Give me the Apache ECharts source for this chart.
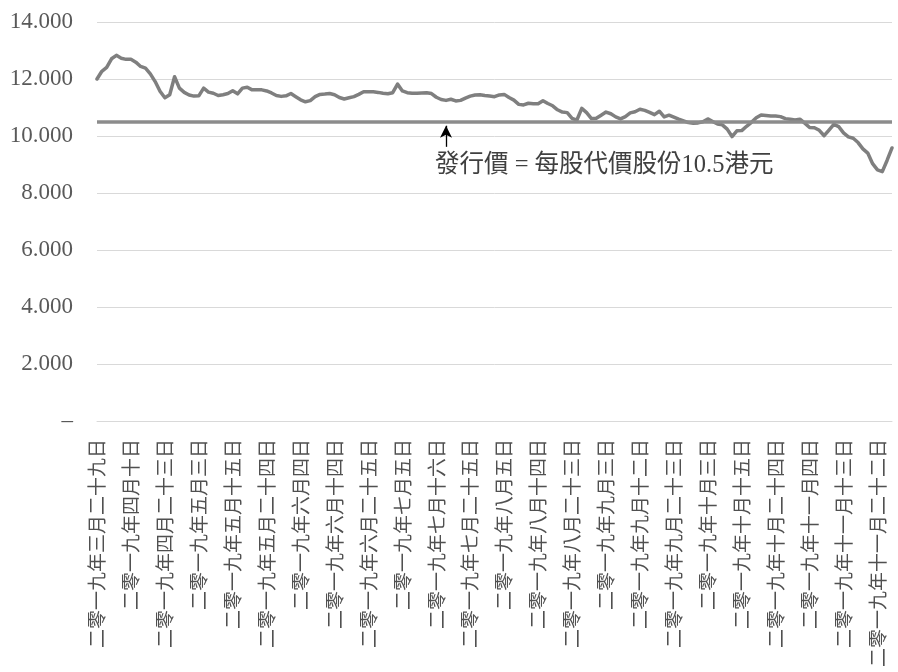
<!DOCTYPE html>
<html>
<head>
<meta charset="utf-8">
<script src="https://cdn.jsdelivr.net/npm/echarts@6/dist/echarts.min.js"></script>
<style>
html,body{margin:0;padding:0;background:#fff;}
#chart{width:898px;height:672px;}
</style>
</head>
<body>
<div id="chart"></div>
<script>
const dates = [
'2019-03-29',
'2019-04-01','2019-04-02','2019-04-03','2019-04-04','2019-04-08','2019-04-09','2019-04-10','2019-04-11','2019-04-12','2019-04-15','2019-04-16','2019-04-17','2019-04-18','2019-04-23','2019-04-24','2019-04-25','2019-04-26','2019-04-29','2019-04-30',
'2019-05-02','2019-05-03','2019-05-06','2019-05-07','2019-05-08','2019-05-09','2019-05-10','2019-05-14','2019-05-15','2019-05-16','2019-05-17','2019-05-20','2019-05-21','2019-05-22','2019-05-23','2019-05-24','2019-05-27','2019-05-28','2019-05-29','2019-05-30','2019-05-31',
'2019-06-03','2019-06-04','2019-06-05','2019-06-06','2019-06-10','2019-06-11','2019-06-12','2019-06-13','2019-06-14','2019-06-17','2019-06-18','2019-06-19','2019-06-20','2019-06-21','2019-06-24','2019-06-25','2019-06-26','2019-06-27','2019-06-28',
'2019-07-02','2019-07-03','2019-07-04','2019-07-05','2019-07-08','2019-07-09','2019-07-10','2019-07-11','2019-07-12','2019-07-15','2019-07-16','2019-07-17','2019-07-18','2019-07-19','2019-07-22','2019-07-23','2019-07-24','2019-07-25','2019-07-26','2019-07-29','2019-07-30','2019-07-31',
'2019-08-01','2019-08-02','2019-08-05','2019-08-06','2019-08-07','2019-08-08','2019-08-09','2019-08-12','2019-08-13','2019-08-14','2019-08-15','2019-08-16','2019-08-19','2019-08-20','2019-08-21','2019-08-22','2019-08-23','2019-08-26','2019-08-27','2019-08-28','2019-08-29','2019-08-30',
'2019-09-02','2019-09-03','2019-09-04','2019-09-05','2019-09-06','2019-09-09','2019-09-10','2019-09-11','2019-09-12','2019-09-13','2019-09-16','2019-09-17','2019-09-18','2019-09-19','2019-09-20','2019-09-23','2019-09-24','2019-09-25','2019-09-26','2019-09-27','2019-09-30',
'2019-10-02','2019-10-03','2019-10-04','2019-10-08','2019-10-09','2019-10-10','2019-10-11','2019-10-14','2019-10-15','2019-10-16','2019-10-17','2019-10-18','2019-10-21','2019-10-22','2019-10-23','2019-10-24','2019-10-25','2019-10-28','2019-10-29','2019-10-30','2019-10-31',
'2019-11-01','2019-11-04','2019-11-05','2019-11-06','2019-11-07','2019-11-08','2019-11-11','2019-11-12','2019-11-13','2019-11-14','2019-11-15','2019-11-18','2019-11-19','2019-11-20','2019-11-21','2019-11-22','2019-11-25','2019-11-26','2019-11-27'
];

const closePrices = [
12.00,12.27,12.41,12.71,12.83,12.73,12.69,12.69,12.59,12.44,
12.38,12.18,11.91,11.57,11.34,11.45,12.08,11.68,11.53,11.44,
11.40,11.41,11.68,11.54,11.50,11.42,11.45,11.49,11.59,11.48,
11.68,11.71,11.62,11.62,11.62,11.58,11.51,11.42,11.39,11.41,
11.49,11.38,11.27,11.20,11.24,11.38,11.46,11.47,11.49,11.45,
11.35,11.30,11.34,11.38,11.46,11.55,11.55,11.55,11.53,11.50,
11.48,11.52,11.82,11.58,11.52,11.50,11.50,11.51,11.52,11.49,
11.36,11.28,11.25,11.29,11.23,11.25,11.33,11.40,11.44,11.45,
11.42,11.40,11.38,11.44,11.46,11.35,11.26,11.11,11.09,11.15,
11.13,11.13,11.24,11.14,11.06,10.92,10.84,10.82,10.62,10.56,
10.97,10.82,10.61,10.62,10.73,10.84,10.78,10.67,10.60,10.68,
10.81,10.85,10.94,10.90,10.83,10.75,10.87,10.67,10.73,10.66,
10.59,10.53,10.47,10.45,10.46,10.50,10.60,10.51,10.42,10.39,
10.24,9.98,10.18,10.19,10.34,10.48,10.64,10.74,10.72,10.70,
10.70,10.68,10.61,10.59,10.56,10.59,10.45,10.30,10.29,10.20,
10.01,10.21,10.41,10.33,10.11,9.97,9.92,9.77,9.55,9.40,
9.03,8.81,8.75,9.15,9.58
];

const issuePrice = 10.5;
const annotationText = '發行價 = 每股代價股份10.5港元';
const annotationIndex = 72;
const yTicks = [0, 2, 4, 6, 8, 10, 12, 14];

const cnDigits = ['零','一','二','三','四','五','六','七','八','九'];
function cnNum(n) {
  if (n < 10) return cnDigits[n];
  if (n === 10) return '十';
  if (n < 20) return '十' + cnDigits[n - 10];
  const t = Math.floor(n / 10), u = n % 10;
  return cnDigits[t] + '十' + (u ? cnDigits[u] : '');
}
function cnDate(s) {
  const p = s.split('-');
  const y = p[0].split('').map(d => (d === '0' ? '零' : cnDigits[+d])).join('');
  return y + '年' + cnNum(+p[1]) + '月' + cnNum(+p[2]) + '日';
}

const chart = echarts.init(document.getElementById('chart'));
chart.setOption({
  animation: false,
  backgroundColor: '#ffffff',
  textStyle: { fontFamily: '"Liberation Serif", "Noto Sans CJK TC", serif' },
  grid: { left: 97, right: 6, top: 22, bottom: 251, containLabel: false },
  xAxis: {
    type: 'category',
    data: dates,
    boundaryGap: false,
    axisLine: { show: true, lineStyle: { color: '#d9d9d9', width: 1 } },
    axisTick: { show: false },
    axisLabel: {
      interval: 6,
      rotate: 90,
      margin: 18,
      fontSize: 19,
      color: '#505050',
      fontFamily: '"Noto Sans CJK TC", sans-serif',
      formatter: v => cnDate(v)
    },
    splitLine: { show: false }
  },
  yAxis: {
    type: 'value',
    min: yTicks[0],
    max: yTicks[yTicks.length - 1],
    interval: 2,
    axisLine: { show: false },
    axisTick: { show: false },
    axisLabel: {
      margin: 24,
      fontSize: 23,
      color: '#595959',
      fontFamily: '"Liberation Serif", serif',
      formatter: v => (v === 0 ? '–' : v.toFixed(3))
    },
    splitLine: { show: true, lineStyle: { color: '#d9d9d9', width: 1 } }
  },
  series: [{
    type: 'line',
    data: closePrices,
    symbol: 'none',
    smooth: false,
    lineStyle: { color: '#7f7f7f', width: 3.5, cap: 'round', join: 'round' },
    z: 3,
    markLine: {
      silent: true,
      animation: false,
      symbol: 'none',
      label: { show: false },
      data: [
        { yAxis: issuePrice, lineStyle: { color: '#8c8c8c', width: 3.5, type: 'solid' } },
        [
          { coord: [dates[annotationIndex], 9.62], symbol: 'none', lineStyle: { color: '#000000', width: 1.3, type: 'solid' } },
          { coord: [dates[annotationIndex], 10.36], symbol: 'arrow', symbolSize: [9, 12] }
        ]
      ]
    },
    markPoint: {
      silent: true,
      symbol: 'circle',
      symbolSize: 0,
      data: [{
        coord: [dates[annotationIndex], 8.95],
        label: {
          show: true,
          position: 'right',
          distance: 0,
          offset: [-11, 0],
          formatter: annotationText,
          fontSize: 24.5,
          color: '#404040',
          fontFamily: '"Liberation Serif", "Noto Sans CJK TC", serif'
        }
      }]
    }
  }]
});
</script>
</body>
</html>
